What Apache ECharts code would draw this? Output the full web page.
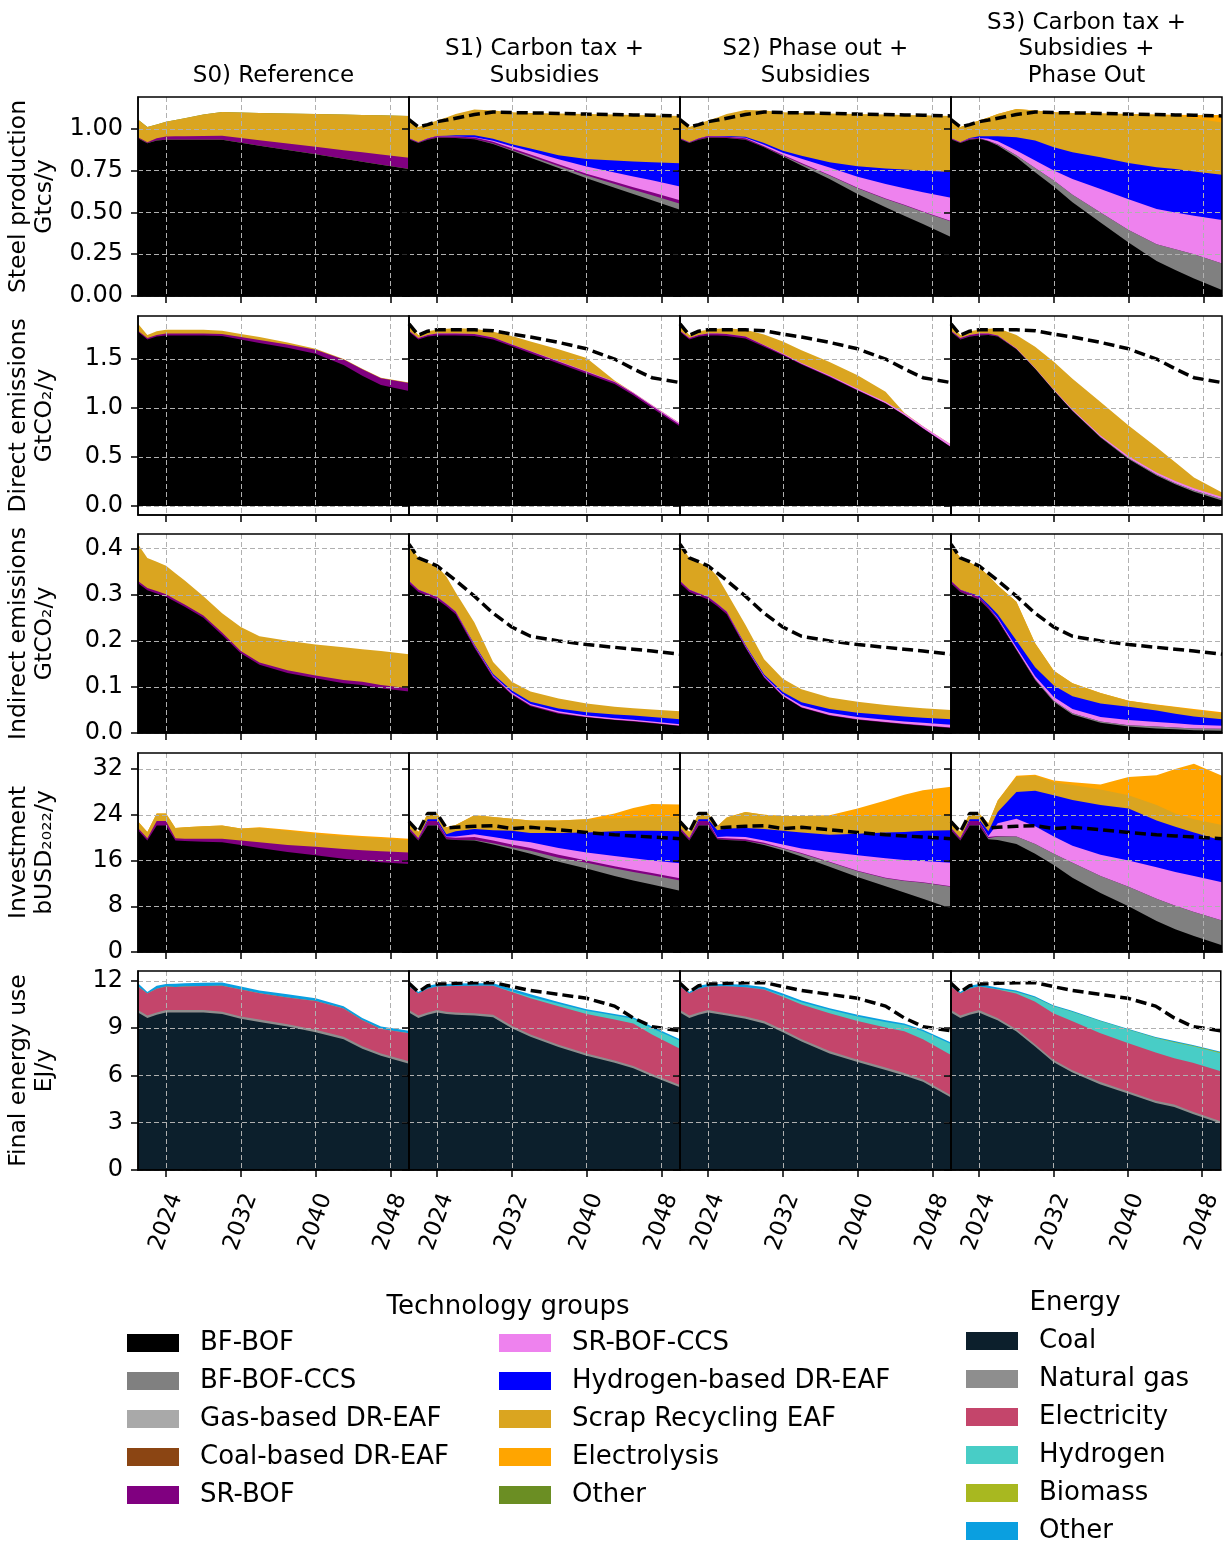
<!DOCTYPE html>
<html>
<head>
<meta charset="utf-8">
<script src="https://cdn.jsdelivr.net/npm/echarts@6/dist/echarts.min.js"></script>
<style>
	html, body { margin: 0; padding: 0; background: #fff; }
	#chart { width: 1224px; height: 1545px; }
</style>
</head>
<body>
<div id="chart"></div>
<script>
	//------------------------data-----------------------//
	var years = [2021, 2022, 2023, 2024, 2025, 2026, 2028, 2030, 2032, 2034, 2037, 2040, 2043, 2045, 2047, 2050];
	var yearTicks = [2024, 2032, 2040, 2048];
	var absent = [0, 0, 0, 0, 0, 0, 0, 0, 0, 0, 0, 0, 0, 0, 0, 0];

	// Steel production, Gtcs/y
	var prodS0_bfbof = [0.944, 0.914, 0.930, 0.934, 0.934, 0.934, 0.934, 0.934, 0.917, 0.899, 0.873, 0.847, 0.820, 0.803, 0.785, 0.759];
	var prodS0_srbof = [0.006, 0.006, 0.014, 0.020, 0.021, 0.022, 0.023, 0.024, 0.028, 0.032, 0.039, 0.045, 0.052, 0.056, 0.061, 0.068];
	var prodS0_scrap = [0.105, 0.090, 0.081, 0.088, 0.097, 0.107, 0.128, 0.142, 0.152, 0.164, 0.180, 0.196, 0.213, 0.224, 0.235, 0.250];

	var prodS1_bfbof = [0.938, 0.915, 0.935, 0.947, 0.946, 0.945, 0.938, 0.909, 0.868, 0.827, 0.765, 0.704, 0.648, 0.610, 0.573, 0.516];
	var prodS1_ccs   = [0, 0, 0, 0, 0, 0, 0, 0.003, 0.005, 0.008, 0.012, 0.016, 0.022, 0.026, 0.030, 0.036];
	var prodS1_srbof = [0.005, 0.005, 0.007, 0.008, 0.008, 0.009, 0.010, 0.011, 0.011, 0.011, 0.011, 0.011, 0.013, 0.015, 0.017, 0.020];
	var prodS1_srccs = [0, 0, 0, 0, 0, 0, 0.002, 0.006, 0.012, 0.020, 0.030, 0.043, 0.055, 0.064, 0.072, 0.083];
	var prodS1_h2    = [0, 0, 0, 0.002, 0.005, 0.008, 0.012, 0.012, 0.012, 0.016, 0.024, 0.045, 0.072, 0.090, 0.108, 0.139];
	var prodS1_scrap = [0.112, 0.090, 0.088, 0.093, 0.109, 0.126, 0.153, 0.169, 0.191, 0.213, 0.250, 0.269, 0.275, 0.278, 0.281, 0.283];

	var prodS2_bfbof = [0.938, 0.915, 0.935, 0.947, 0.946, 0.945, 0.935, 0.890, 0.835, 0.780, 0.700, 0.610, 0.530, 0.480, 0.430, 0.353];
	var prodS2_ccs   = [0, 0, 0, 0, 0, 0, 0, 0, 0.004, 0.010, 0.020, 0.035, 0.050, 0.062, 0.073, 0.092];
	var prodS2_srbof = [0.005, 0.005, 0.007, 0.008, 0.008, 0.008, 0.008, 0.006, 0.005, 0.005, 0.004, 0.003, 0.003, 0.003, 0.003, 0.003];
	var prodS2_srccs = [0, 0, 0, 0, 0, 0, 0.003, 0.008, 0.012, 0.025, 0.045, 0.065, 0.087, 0.100, 0.115, 0.139];
	var prodS2_h2    = [0, 0, 0, 0.002, 0.003, 0.004, 0.006, 0.011, 0.012, 0.018, 0.031, 0.063, 0.093, 0.112, 0.130, 0.155];
	var prodS2_scrap = [0.112, 0.090, 0.088, 0.093, 0.111, 0.131, 0.161, 0.195, 0.231, 0.257, 0.292, 0.312, 0.322, 0.326, 0.330, 0.335];

	var prodS3_bfbof = [0.938, 0.915, 0.935, 0.940, 0.925, 0.900, 0.830, 0.740, 0.655, 0.560, 0.440, 0.320, 0.210, 0.155, 0.105, 0.036];
	var prodS3_ccs   = [0, 0, 0, 0, 0, 0.005, 0.012, 0.025, 0.035, 0.045, 0.060, 0.075, 0.100, 0.125, 0.145, 0.158];
	var prodS3_srbof = [0.005, 0.005, 0.007, 0.005, 0.004, 0.003, 0, 0, 0, 0, 0, 0, 0, 0, 0, 0];
	var prodS3_srccs = [0, 0, 0, 0, 0.011, 0.017, 0.028, 0.045, 0.060, 0.095, 0.140, 0.183, 0.210, 0.220, 0.230, 0.261];
	var prodS3_h2    = [0, 0, 0.003, 0.010, 0.015, 0.030, 0.080, 0.120, 0.140, 0.160, 0.190, 0.217, 0.250, 0.260, 0.265, 0.270];
	var prodS3_scrap = [0.112, 0.090, 0.085, 0.095, 0.113, 0.133, 0.168, 0.180, 0.209, 0.235, 0.262, 0.293, 0.313, 0.316, 0.318, 0.312];
	var prodS3_elec  = [0, 0, 0, 0, 0, 0, 0, 0, 0, 0, 0, 0, 0.002, 0.008, 0.020, 0.045];

	// Direct emissions, GtCO2/y
	var dirS0_bfbof = [1.78, 1.70, 1.73, 1.74, 1.74, 1.74, 1.74, 1.735, 1.70, 1.665, 1.615, 1.555, 1.44, 1.33, 1.235, 1.175];
	var dirS0_srbof = [0.01, 0.015, 0.015, 0.02, 0.02, 0.02, 0.02, 0.022, 0.025, 0.03, 0.035, 0.04, 0.055, 0.065, 0.07, 0.08];
	var dirS0_scrap = [0.07, 0.03, 0.04, 0.04, 0.04, 0.04, 0.04, 0.033, 0.03, 0.03, 0.02, 0.01, 0.005, 0.005, 0.005, 0.005];

	var dirS1_bfbof = [1.78, 1.70, 1.73, 1.74, 1.74, 1.74, 1.735, 1.70, 1.63, 1.56, 1.455, 1.35, 1.245, 1.13, 1.00, 0.81];
	var dirS1_srbof = [0.01, 0.015, 0.015, 0.02, 0.02, 0.02, 0.02, 0.02, 0.02, 0.02, 0.02, 0.02, 0.02, 0.02, 0.02, 0.02];
	var dirS1_srccs = [0, 0, 0, 0, 0, 0, 0, 0, 0, 0.002, 0.005, 0.006, 0.007, 0.008, 0.01, 0.015];
	var dirS1_scrap = [0.07, 0.03, 0.04, 0.04, 0.05, 0.055, 0.055, 0.06, 0.085, 0.098, 0.12, 0.134, 0.01, 0, 0, 0];

	var dirS2_bfbof = [1.78, 1.70, 1.73, 1.74, 1.74, 1.735, 1.71, 1.625, 1.54, 1.445, 1.318, 1.18, 1.045, 0.925, 0.79, 0.60];
	var dirS2_srbof = [0.01, 0.015, 0.015, 0.02, 0.02, 0.02, 0.02, 0.015, 0.01, 0.008, 0.006, 0.005, 0.004, 0.003, 0.003, 0.002];
	var dirS2_srccs = [0, 0, 0, 0, 0, 0, 0, 0.003, 0.006, 0.008, 0.01, 0.012, 0.015, 0.018, 0.02, 0.025];
	var dirS2_scrap = [0.07, 0.03, 0.04, 0.04, 0.05, 0.06, 0.07, 0.107, 0.124, 0.129, 0.136, 0.138, 0.101, 0.005, 0, 0];

	var dirS3_bfbof = [1.78, 1.70, 1.73, 1.74, 1.745, 1.73, 1.60, 1.40, 1.18, 0.97, 0.70, 0.48, 0.31, 0.22, 0.145, 0.055];
	var dirS3_ccs   = [0, 0, 0, 0, 0, 0, 0, 0, 0, 0.003, 0.005, 0.007, 0.01, 0.012, 0.013, 0.015];
	var dirS3_srbof = [0.01, 0.015, 0.015, 0.02, 0.015, 0.01, 0.005, 0, 0, 0, 0, 0, 0, 0, 0, 0];
	var dirS3_srccs = [0, 0, 0, 0, 0, 0, 0.005, 0.008, 0.01, 0.012, 0.015, 0.02, 0.022, 0.022, 0.022, 0.022];
	var dirS3_scrap = [0.07, 0.03, 0.04, 0.04, 0.05, 0.075, 0.137, 0.219, 0.283, 0.315, 0.342, 0.315, 0.258, 0.191, 0.11, 0.045];

	// Indirect emissions, GtCO2/y
	var indS0_bfbof = [0.325, 0.31, 0.303, 0.296, 0.285, 0.274, 0.25, 0.213, 0.173, 0.148, 0.13, 0.119, 0.108, 0.104, 0.097, 0.09];
	var indS0_srbof = [0.005, 0.005, 0.005, 0.005, 0.005, 0.005, 0.005, 0.005, 0.005, 0.005, 0.006, 0.006, 0.007, 0.007, 0.007, 0.007];
	var indS0_scrap = [0.08, 0.065, 0.064, 0.062, 0.057, 0.052, 0.042, 0.042, 0.052, 0.057, 0.064, 0.067, 0.071, 0.071, 0.074, 0.074];

	var indS1_bfbof = [0.325, 0.306, 0.298, 0.29, 0.275, 0.258, 0.185, 0.12, 0.083, 0.058, 0.042, 0.034, 0.028, 0.025, 0.021, 0.015];
	var indS1_srbof = [0.005, 0.005, 0.005, 0.005, 0.005, 0.005, 0.004, 0.003, 0.002, 0.002, 0.002, 0.001, 0.001, 0.001, 0.001, 0.001];
	var indS1_srccs = [0, 0, 0, 0, 0, 0, 0.001, 0.002, 0.003, 0.003, 0.003, 0.003, 0.003, 0.003, 0.003, 0.003];
	var indS1_h2    = [0, 0, 0, 0, 0, 0, 0.002, 0.003, 0.004, 0.005, 0.006, 0.007, 0.008, 0.009, 0.01, 0.011];
	var indS1_scrap = [0.08, 0.069, 0.067, 0.067, 0.06, 0.042, 0.048, 0.026, 0.019, 0.022, 0.022, 0.019, 0.017, 0.016, 0.016, 0.017];

	var indS2_bfbof = [0.325, 0.306, 0.298, 0.29, 0.275, 0.258, 0.185, 0.12, 0.08, 0.055, 0.038, 0.029, 0.023, 0.019, 0.016, 0.011];
	var indS2_srbof = [0.005, 0.005, 0.005, 0.005, 0.005, 0.005, 0.003, 0.002, 0.001, 0.001, 0.001, 0.001, 0.001, 0.001, 0.001, 0.001];
	var indS2_srccs = [0, 0, 0, 0, 0, 0, 0.001, 0.002, 0.003, 0.004, 0.005, 0.005, 0.005, 0.005, 0.005, 0.006];
	var indS2_h2    = [0, 0, 0, 0, 0, 0, 0.002, 0.003, 0.005, 0.007, 0.008, 0.009, 0.01, 0.011, 0.011, 0.012];
	var indS2_scrap = [0.08, 0.069, 0.067, 0.067, 0.06, 0.042, 0.044, 0.033, 0.029, 0.028, 0.025, 0.024, 0.022, 0.021, 0.021, 0.02];

	var indS3_bfbof = [0.325, 0.306, 0.298, 0.29, 0.27, 0.245, 0.18, 0.115, 0.068, 0.04, 0.022, 0.014, 0.01, 0.008, 0.006, 0.005];
	var indS3_ccs   = [0, 0, 0, 0, 0, 0, 0, 0.001, 0.002, 0.003, 0.003, 0.003, 0.004, 0.004, 0.004, 0.004];
	var indS3_srbof = [0.005, 0.005, 0.005, 0.005, 0.004, 0.003, 0.002, 0.001, 0, 0, 0, 0, 0, 0, 0, 0];
	var indS3_srccs = [0, 0, 0, 0, 0, 0.002, 0.004, 0.006, 0.008, 0.009, 0.01, 0.011, 0.01, 0.009, 0.008, 0.007];
	var indS3_h2    = [0, 0, 0.001, 0.003, 0.005, 0.008, 0.015, 0.02, 0.025, 0.028, 0.029, 0.029, 0.025, 0.021, 0.018, 0.014];
	var indS3_scrap = [0.08, 0.069, 0.066, 0.062, 0.063, 0.062, 0.084, 0.052, 0.032, 0.028, 0.023, 0.013, 0.012, 0.014, 0.014, 0.012];
	var indS3_elec  = [0, 0, 0, 0, 0, 0, 0, 0, 0, 0, 0, 0, 0.001, 0.001, 0.002, 0.003];

	// Investment, bUSD2022/y
	var invS0_bfbof = [21.3, 19.5, 22.1, 22.1, 19.5, 19.4, 19.3, 19.2, 18.7, 18.2, 17.5, 16.9, 16.3, 16.0, 15.7, 15.4];
	var invS0_srbof = [0.4, 0.4, 0.8, 0.8, 0.4, 0.4, 0.5, 0.6, 0.8, 1.0, 1.2, 1.5, 1.7, 1.8, 1.9, 2.0];
	var invS0_scrap = [1.1, 1.1, 1.3, 1.3, 1.8, 2.0, 2.2, 2.3, 2.1, 2.5, 2.5, 2.25, 2.25, 2.25, 2.25, 2.15];
	var invS0_elec  = [0, 0, 0, 0, 0, 0, 0, 0, 0, 0.1, 0.2, 0.25, 0.25, 0.25, 0.25, 0.25];

	var invS1_bfbof = [21.3, 19.5, 22.1, 22.1, 19.7, 19.6, 19.5, 18.8, 18.0, 17.2, 15.8, 14.6, 13.3, 12.5, 11.8, 10.7];
	var invS1_ccs   = [0, 0, 0, 0, 0, 0, 0.1, 0.2, 0.3, 0.5, 0.7, 1.0, 1.3, 1.5, 1.6, 1.8];
	var invS1_srbof = [0.4, 0.4, 0.8, 0.8, 0.4, 0.4, 0.5, 0.5, 0.5, 0.5, 0.5, 0.4, 0.4, 0.4, 0.4, 0.4];
	var invS1_srccs = [0, 0, 0, 0, 0.1, 0.2, 0.5, 0.6, 0.8, 1.0, 1.2, 1.4, 1.8, 2.0, 2.2, 2.6];
	var invS1_h2    = [0, 0, 0.3, 0.3, 0.4, 0.9, 0.9, 1.2, 1.6, 1.6, 2.6, 3.5, 4.3, 4.8, 5.2, 5.6];
	var invS1_scrap = [1.1, 1.1, 1.0, 1.0, 1.2, 1.1, 2.4, 2.3, 2.1, 2.2, 2.2, 2.3, 2.3, 2.3, 2.4, 2.5];
	var invS1_elec  = [0, 0, 0, 0, 0, 0, 0, 0, 0, 0, 0, 0, 0.8, 1.7, 2.3, 2.2];

	var invS2_bfbof = [21.3, 19.5, 22.1, 22.1, 19.7, 19.6, 19.4, 18.7, 17.8, 16.7, 14.9, 13.1, 11.5, 10.4, 9.3, 7.6];
	var invS2_ccs   = [0, 0, 0, 0, 0, 0, 0, 0.2, 0.3, 0.5, 0.8, 1.0, 1.4, 2.0, 2.8, 3.8];
	var invS2_srbof = [0.4, 0.4, 0.8, 0.8, 0.3, 0.3, 0.3, 0.2, 0.1, 0.1, 0.1, 0.1, 0.1, 0.1, 0.1, 0.1];
	var invS2_srccs = [0, 0, 0, 0, 0.1, 0.3, 0.4, 0.4, 0.6, 0.8, 1.7, 2.7, 3.4, 3.6, 3.7, 4.1];
	var invS2_h2    = [0, 0, 0.3, 0.3, 1.2, 1.4, 1.6, 2.0, 2.4, 2.8, 3.0, 3.8, 4.5, 4.9, 5.3, 5.7];
	var invS2_scrap = [1.1, 1.1, 1.0, 1.0, 0.7, 1.9, 2.8, 2.5, 2.6, 2.9, 3.3, 3.1, 3.0, 2.9, 2.7, 2.6];
	var invS2_elec  = [0, 0, 0, 0, 0, 0, 0, 0, 0, 0, 0.1, 1.3, 2.6, 3.6, 4.4, 5.0];

	var invS3_bfbof = [21.3, 19.5, 22.1, 22.1, 19.7, 19.6, 18.9, 17.2, 15.2, 13.0, 10.3, 8.0, 5.4, 4.0, 2.8, 1.2];
	var invS3_ccs   = [0, 0, 0, 0, 0.2, 0.6, 1.3, 1.7, 2.0, 2.6, 3.0, 3.4, 3.9, 4.1, 4.2, 4.3];
	var invS3_srbof = [0.4, 0.4, 0.8, 0.8, 0.2, 0.1, 0, 0, 0, 0, 0, 0, 0, 0, 0, 0];
	var invS3_srccs = [0, 0, 0, 0, 0.2, 2.2, 3.1, 3.1, 3.0, 3.0, 3.7, 4.6, 5.5, 5.9, 6.3, 6.7];
	var invS3_h2    = [0, 0, 0.3, 0.3, 0.8, 2.0, 4.7, 6.2, 7.2, 8.0, 8.7, 9.1, 8.2, 7.9, 7.6, 7.3];
	var invS3_scrap = [1.1, 1.1, 1.0, 1.0, 1.4, 2.0, 2.6, 2.6, 2.3, 2.6, 2.7, 2.3, 2.7, 2.3, 2.3, 2.7];
	var invS3_elec  = [0, 0, 0, 0, 0, 0, 0.2, 0.2, 0.3, 0.5, 0.9, 3.2, 5.2, 7.8, 9.7, 8.6];

	// Final energy use, EJ/y
	var engS0_coal  = [10.0, 9.65, 9.85, 10.0, 10.0, 10.0, 10.0, 9.9, 9.6, 9.4, 9.1, 8.75, 8.3, 7.7, 7.25, 6.75];
	var engS0_gas   = [0.15, 0.15, 0.15, 0.15, 0.15, 0.15, 0.15, 0.15, 0.15, 0.15, 0.15, 0.15, 0.15, 0.15, 0.15, 0.15];
	var engS0_elec  = [1.5, 1.4, 1.5, 1.5, 1.47, 1.49, 1.53, 1.65, 1.7, 1.67, 1.7, 1.82, 1.8, 1.65, 1.55, 1.78];
	var engS0_other = [0.2, 0.1, 0.2, 0.15, 0.2, 0.21, 0.2, 0.2, 0.19, 0.18, 0.2, 0.18, 0.15, 0.15, 0.15, 0.16];

	var engS1_coal  = [10.0, 9.65, 9.85, 10.0, 9.9, 9.85, 9.8, 9.7, 9.0, 8.45, 7.8, 7.25, 6.8, 6.45, 5.95, 5.25];
	var engS1_gas   = [0.15, 0.15, 0.15, 0.15, 0.15, 0.15, 0.15, 0.15, 0.15, 0.15, 0.15, 0.15, 0.15, 0.15, 0.15, 0.15];
	var engS1_elec  = [1.5, 1.4, 1.5, 1.5, 1.61, 1.68, 1.75, 1.85, 2.15, 2.3, 2.45, 2.5, 2.6, 2.7, 2.5, 2.3];
	var engS1_h2    = [0, 0, 0, 0, 0, 0, 0, 0, 0.05, 0.1, 0.15, 0.2, 0.25, 0.3, 0.4, 0.5];
	var engS1_other = [0.2, 0.1, 0.2, 0.15, 0.15, 0.15, 0.15, 0.15, 0.15, 0.15, 0.12, 0.1, 0.1, 0.1, 0.1, 0.1];

	var engS2_coal  = [10.0, 9.65, 9.85, 10.0, 9.9, 9.8, 9.6, 9.3, 8.75, 8.15, 7.4, 6.85, 6.35, 6.0, 5.6, 4.6];
	var engS2_gas   = [0.15, 0.15, 0.15, 0.15, 0.15, 0.15, 0.15, 0.15, 0.15, 0.15, 0.15, 0.15, 0.15, 0.15, 0.15, 0.15];
	var engS2_elec  = [1.5, 1.4, 1.5, 1.5, 1.61, 1.71, 1.85, 2.0, 2.1, 2.2, 2.4, 2.45, 2.55, 2.65, 2.55, 2.55];
	var engS2_h2    = [0, 0, 0, 0, 0, 0, 0, 0.02, 0.08, 0.15, 0.22, 0.3, 0.35, 0.4, 0.5, 0.7];
	var engS2_other = [0.2, 0.1, 0.2, 0.15, 0.15, 0.15, 0.15, 0.15, 0.12, 0.1, 0.1, 0.1, 0.1, 0.1, 0.1, 0.1];

	var engS3_coal  = [10.0, 9.65, 9.85, 10.0, 9.75, 9.5, 8.8, 7.85, 6.85, 6.2, 5.45, 4.85, 4.25, 4.0, 3.55, 2.95];
	var engS3_gas   = [0.15, 0.15, 0.15, 0.15, 0.15, 0.15, 0.15, 0.15, 0.15, 0.15, 0.15, 0.15, 0.15, 0.15, 0.15, 0.15];
	var engS3_elec  = [1.5, 1.4, 1.5, 1.5, 1.65, 1.8, 2.25, 2.7, 2.95, 3.1, 3.1, 3.06, 3.05, 2.95, 3.1, 3.16];
	var engS3_h2    = [0, 0, 0, 0, 0, 0.02, 0.1, 0.25, 0.45, 0.6, 0.75, 0.85, 0.92, 1.0, 1.05, 1.15];
	var engS3_bio   = [0, 0, 0, 0, 0, 0, 0, 0, 0, 0, 0, 0, 0.02, 0.03, 0.03, 0.04];
	var engS3_other = [0.2, 0.1, 0.2, 0.15, 0.15, 0.12, 0.1, 0.08, 0.06, 0.05, 0.05, 0.05, 0.05, 0.05, 0.05, 0.05];

	// axis ticks
	var prodTicks = [0, 0.25, 0.5, 0.75, 1.0];
	var dirTicks = [0, 0.5, 1.0, 1.5];
	var indTicks = [0, 0.1, 0.2, 0.3, 0.4];
	var invTicks = [0, 8, 16, 24, 32];
	var engTicks = [0, 3, 6, 9, 12];

	var scenarioTitles = ['S0) Reference', 'S1) Carbon tax +\nSubsidies', 'S2) Phase out +\nSubsidies', 'S3) Carbon tax +\nSubsidies +\nPhase Out'];
	var techNames = ['BF-BOF', 'BF-BOF-CCS', 'Gas-based DR-EAF', 'Coal-based DR-EAF', 'SR-BOF', 'SR-BOF-CCS', 'Hydrogen-based DR-EAF', 'Scrap Recycling EAF', 'Electrolysis', 'Other'];
	var energyNames = ['Coal', 'Natural gas', 'Electricity', 'Hydrogen', 'Biomass', 'Other '];

	//------------------------styles-----------------------//
	var colorOf = {
		'BF-BOF': '#000000', 'BF-BOF-CCS': '#808080', 'Gas-based DR-EAF': '#a9a9a9', 'Coal-based DR-EAF': '#8b4513',
		'SR-BOF': '#800080', 'SR-BOF-CCS': '#ee82ee', 'Hydrogen-based DR-EAF': '#0000ff', 'Scrap Recycling EAF': '#daa520',
		'Electrolysis': '#ffa500', 'Other': '#6b8e23',
		'Coal': '#0c1f2c', 'Natural gas': '#8e8e8e', 'Electricity': '#c4456b', 'Hydrogen': '#48cdc6',
		'Biomass': '#a8b820', 'Other ': '#0a9fe0'
	};
	var FONT = 'DejaVu Sans';
	var gridLeft = 138, colW = 271, rowTops = [97, 316, 534, 753, 971], rowH = 199;

	var rows = [
		{ name: 'Steel production\nGtcs/y', min: 0, max: 1.19, ticks: prodTicks, dec: 2 },
		{ name: 'Direct emissions\nGtCO\u2082/y', min: -0.093, max: 1.94, ticks: dirTicks, dec: 1 },
		{ name: 'Indirect emissions\nGtCO\u2082/y', min: 0, max: 0.432, ticks: indTicks, dec: 1 },
		{ name: 'Investment\nbUSD\u2082\u2080\u2082\u2082/y', min: 0, max: 34.8, ticks: invTicks, dec: 0 },
		{ name: 'Final energy use\nEJ/y', min: 0, max: 12.63, ticks: engTicks, dec: 0 }
	];

	var T = techNames;
	var panels = [
		[
			[[T[0], prodS0_bfbof], [T[2], absent], [T[3], absent], [T[4], prodS0_srbof], [T[7], prodS0_scrap], [T[9], absent]],
			[[T[0], prodS1_bfbof], [T[1], prodS1_ccs], [T[4], prodS1_srbof], [T[5], prodS1_srccs], [T[6], prodS1_h2], [T[7], prodS1_scrap]],
			[[T[0], prodS2_bfbof], [T[1], prodS2_ccs], [T[4], prodS2_srbof], [T[5], prodS2_srccs], [T[6], prodS2_h2], [T[7], prodS2_scrap]],
			[[T[0], prodS3_bfbof], [T[1], prodS3_ccs], [T[4], prodS3_srbof], [T[5], prodS3_srccs], [T[6], prodS3_h2], [T[7], prodS3_scrap], [T[8], prodS3_elec]]
		],
		[
			[[T[0], dirS0_bfbof], [T[4], dirS0_srbof], [T[7], dirS0_scrap]],
			[[T[0], dirS1_bfbof], [T[4], dirS1_srbof], [T[5], dirS1_srccs], [T[7], dirS1_scrap]],
			[[T[0], dirS2_bfbof], [T[4], dirS2_srbof], [T[5], dirS2_srccs], [T[7], dirS2_scrap]],
			[[T[0], dirS3_bfbof], [T[1], dirS3_ccs], [T[4], dirS3_srbof], [T[5], dirS3_srccs], [T[7], dirS3_scrap]]
		],
		[
			[[T[0], indS0_bfbof], [T[4], indS0_srbof], [T[7], indS0_scrap]],
			[[T[0], indS1_bfbof], [T[4], indS1_srbof], [T[5], indS1_srccs], [T[6], indS1_h2], [T[7], indS1_scrap]],
			[[T[0], indS2_bfbof], [T[4], indS2_srbof], [T[5], indS2_srccs], [T[6], indS2_h2], [T[7], indS2_scrap]],
			[[T[0], indS3_bfbof], [T[1], indS3_ccs], [T[4], indS3_srbof], [T[5], indS3_srccs], [T[6], indS3_h2], [T[7], indS3_scrap], [T[8], indS3_elec]]
		],
		[
			[[T[0], invS0_bfbof], [T[4], invS0_srbof], [T[7], invS0_scrap], [T[8], invS0_elec]],
			[[T[0], invS1_bfbof], [T[1], invS1_ccs], [T[4], invS1_srbof], [T[5], invS1_srccs], [T[6], invS1_h2], [T[7], invS1_scrap], [T[8], invS1_elec]],
			[[T[0], invS2_bfbof], [T[1], invS2_ccs], [T[4], invS2_srbof], [T[5], invS2_srccs], [T[6], invS2_h2], [T[7], invS2_scrap], [T[8], invS2_elec]],
			[[T[0], invS3_bfbof], [T[1], invS3_ccs], [T[4], invS3_srbof], [T[5], invS3_srccs], [T[6], invS3_h2], [T[7], invS3_scrap], [T[8], invS3_elec]]
		],
		[
			[['Coal', engS0_coal], ['Natural gas', engS0_gas], ['Electricity', engS0_elec], ['Hydrogen', absent], ['Biomass', absent], ['Other ', engS0_other]],
			[['Coal', engS1_coal], ['Natural gas', engS1_gas], ['Electricity', engS1_elec], ['Hydrogen', engS1_h2], ['Other ', engS1_other]],
			[['Coal', engS2_coal], ['Natural gas', engS2_gas], ['Electricity', engS2_elec], ['Hydrogen', engS2_h2], ['Other ', engS2_other]],
			[['Coal', engS3_coal], ['Natural gas', engS3_gas], ['Electricity', engS3_elec], ['Hydrogen', engS3_h2], ['Biomass', engS3_bio], ['Other ', engS3_other]]
		]
	];

	//------------------------helpers-----------------------//
	// running totals of the layers: element k is the top edge of layer k
	function runningTotals(layers)
	{
		var acc = years.map(function(){ return 0; });
		return layers.map(function(l){
			acc = acc.map(function(v, i){ return Math.round((v + l[1][i]) * 100000) / 100000; });
			return acc;
		});
	}

	function pairs(arr)
	{
		return years.map(function(y, i){ return [y, arr[i]]; });
	}

	//------------------------build-----------------------//
	var grid = [], xAxis = [], yAxis = [], series = [], graphic = [];
	var gridLine = { color: '#b0b0b0', width: 1, type: [5, 3] };

	rows.forEach(function(row, r){
		for (var c = 0; c < 4; c++)
		{
			var idx = r * 4 + c;
			grid.push({
				left: gridLeft + c * colW, top: rowTops[r], width: colW, height: rowH,
				show: true, z: 5, backgroundColor: 'rgba(0,0,0,0)', borderColor: '#000', borderWidth: 1.5
			});
			xAxis.push({
				gridIndex: idx, type: 'value', min: 2021, max: 2050, z: 4,
				axisLine: { show: true, onZero: false, lineStyle: { color: '#000', width: 1.5 } },
				axisTick: { show: true, length: 7, customValues: yearTicks, lineStyle: { color: '#000', width: 1.5 } },
				axisLabel: {
					show: r === 4, customValues: yearTicks, rotate: 70, align: 'center', verticalAlign: 'middle',
					margin: 52, fontSize: 23, fontFamily: FONT, color: '#000',
					formatter: function(v){ return String(v); }
				},
				splitLine: { show: true, lineStyle: gridLine }
			});
			yAxis.push({
				gridIndex: idx, type: 'value', min: row.min, max: row.max, z: 4,
				axisLine: { show: true, onZero: false, lineStyle: { color: '#000', width: 1.5 } },
				axisTick: { show: true, length: 7, customValues: row.ticks, lineStyle: { color: '#000', width: 1.5 } },
				axisLabel: {
					show: c === 0, customValues: row.ticks, margin: 15, fontSize: 24, fontFamily: FONT, color: '#000',
					formatter: (function(d){ return function(v){ return v.toFixed(d); }; })(row.dec)
				},
				splitLine: { show: true, lineStyle: gridLine },
				name: c === 0 ? row.name : '', nameLocation: 'middle', nameRotate: 90, nameGap: 80,
				nameTextStyle: { fontSize: 23.5, lineHeight: 26, fontFamily: FONT, color: '#000' }
			});

			// layers drawn top-first so each lower running total paints over the one above it
			var layers = panels[r][c];
			var tops = runningTotals(layers);
			for (var k = layers.length - 1; k >= 0; k--)
			{
				var nm = layers[k][0];
				series.push({
					type: 'line', name: nm, xAxisIndex: idx, yAxisIndex: idx,
					data: pairs(tops[k]), symbol: 'none', silent: true, z: 2,
					lineStyle: { width: 0 },
					itemStyle: { color: colorOf[nm] },
					areaStyle: { color: colorOf[nm], opacity: 1 }
				});
			}
			if (c > 0)
			{
				var ref = runningTotals(panels[r][0]);
				series.push({
					type: 'line', name: 'S0 total', xAxisIndex: idx, yAxisIndex: idx,
					data: pairs(ref[ref.length - 1]), symbol: 'none', silent: true, z: 3,
					lineStyle: { color: '#000', width: 3.5, type: [11, 5] }
				});
			}
		}
	});

	scenarioTitles.forEach(function(t, c){
		graphic.push({
			type: 'text', x: gridLeft + c * colW + colW / 2, y: 89,
			style: { text: t, fontSize: 23, fontFamily: FONT, fill: '#000', align: 'center', verticalAlign: 'bottom', lineHeight: 26.5 }
		});
	});
	graphic.push({ type: 'text', x: 508, y: 1307, style: { text: 'Technology groups', fontSize: 26, fontFamily: FONT, fill: '#000', align: 'center', verticalAlign: 'middle' } });
	graphic.push({ type: 'text', x: 1075, y: 1303, style: { text: 'Energy', fontSize: 26, fontFamily: FONT, fill: '#000', align: 'center', verticalAlign: 'middle' } });

	function legendBlock(names, left, top)
	{
		return {
			orient: 'vertical', left: left, top: top, padding: 0, data: names,
			icon: 'rect', itemWidth: 52, itemHeight: 18, itemGap: 12, selectedMode: false,
			itemStyle: { borderWidth: 0 },
			formatter: function(n){ return n.trim(); },
			textStyle: { fontSize: 26, lineHeight: 26, fontFamily: FONT, color: '#000', padding: [0, 0, 0, 16] }
		};
	}

	var option = {
		animation: false,
		backgroundColor: '#fff',
		grid: grid,
		xAxis: xAxis,
		yAxis: yAxis,
		series: series,
		graphic: graphic,
		legend: [
			legendBlock(techNames.slice(0, 5), 127, 1330),
			legendBlock(techNames.slice(5), 499, 1330),
			legendBlock(energyNames, 966, 1328)
		]
	};

	var myChart = echarts.init(document.getElementById('chart'));
	myChart.setOption(option);
</script>
</body>
</html>
